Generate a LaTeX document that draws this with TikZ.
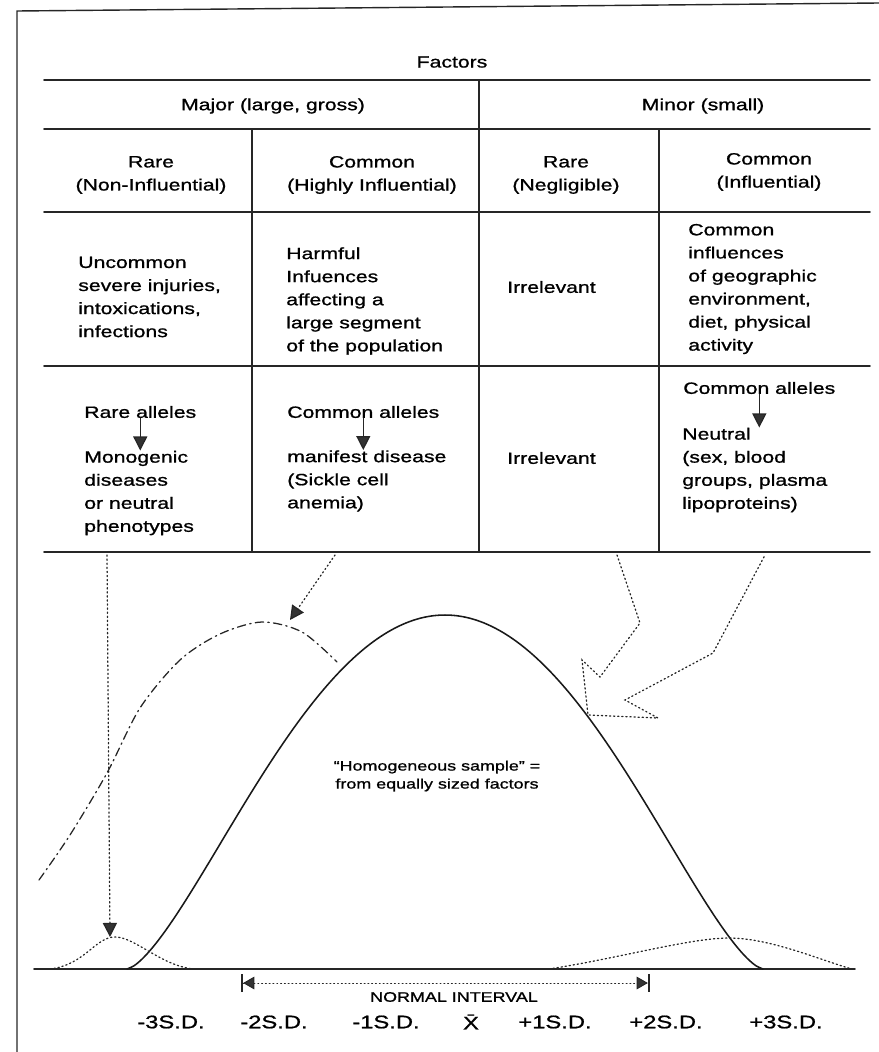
\documentclass[tikz,border=0pt]{standalone}
\usepackage{fontspec}
\setmainfont{Liberation Sans}[FakeStretch=1.3, FakeBold=1]
\usetikzlibrary{arrows.meta}

\tikzset{
    cell/.style={font=\fontsize{11.6}{16.4}\selectfont, inner sep=0pt, align=left, anchor=west},
    head/.style={cell, align=center, anchor=center},
    rule/.style={line width=1.1pt, black!85},
    down/.style={-{Triangle[width=10pt,length=10pt,fill=black!80]}, line width=0.9pt, black!85},
    dots/.style={dotted, line width=0.9pt, black!85},
    dashdot/.style={dash pattern=on 6pt off 3pt on 1pt off 3pt, line width=0.9pt, black!85},
}

\begin{document}
\begin{tikzpicture}[x=0.025cm, y=-0.025cm, line cap=round]
    \useasboundingbox (0,0) rectangle (879,1052);

    % Frame
    \draw[line width=1pt, black!85] (17,1052) -- (17,11) -- (879,3);

    % Table rules
    \foreach \y in {80,129,212,366,552}
        \draw[rule] (44,\y) -- (870,\y);
    \draw[rule] (479,80) -- (479,552);
    \foreach \x in {252,659}
        \draw[rule] (\x,129) -- (\x,552);

    % Headings
    \node[head] (factors) at (452,62) {Factors};
    \node[head] (major) at (273,106) {Major (large, gross)};
    \node[head] (minor) at (703,106) {Minor (small)};
    \node[head] (rare1) at (151,175) {Rare\\(Non-Influential)};
    \node[head] (common1) at (372,175) {Common\\(Highly Influential)};
    \node[head] (rare2) at (566,175) {Rare\\(Negligible)};
    \node[head] (common2) at (769,172) {Common\\(Influential)};

    % Environmental factors
    \node[cell] (injuries) at (78,297) {Uncommon\\severe injuries,\\intoxications,\\infections};
    \node[cell] (harmful) at (286,301) {Harmful\\Infuences\\affecting a\\large segment\\of the population};
    \node[cell] (irr1) at (507,287) {Irrelevant};
    \node[cell] (geo) at (688,289) {Common\\influences\\of geographic\\environment,\\diet, physical\\activity};

    % Genetic factors
    \node[cell] (rarealleles) at (84,412) {Rare alleles};
    \node[cell] (monogenic) at (84,493) {Monogenic\\diseases\\or neutral\\phenotypes};
    \node[cell] (comalleles) at (287,412) {Common alleles};
    \node[cell] (manifest) at (287,481) {manifest disease\\(Sickle cell\\anemia)};
    \node[cell] (irr2) at (507,458) {Irrelevant};
    \node[cell] (comalleles2) at (683,388) {Common alleles};
    \node[cell] (neutral) at (682,470) {Neutral\\(sex, blood\\groups, plasma\\lipoproteins)};

    \draw[down] (rarealleles.south) -- (rarealleles.south |- monogenic.north);
    \draw[down] (comalleles.south) -- (comalleles.south |- manifest.north);
    \draw[down] (comalleles2.south) -- (comalleles2.south |- neutral.north);

    % Baseline and distributions
    \draw[line width=1.2pt, black!85] (34,969) -- (855,969);
    \draw[line width=1.1pt, black!90] plot[domain=-318:318, samples=90, smooth]
        ({445+\x}, {969-354*(1-(\x/318)^2)*sqrt(abs(1-(\x/318)^2))});
    \draw[dashdot] plot[smooth] coordinates
        {(39,880) (70,835) (107,773) (140,708) (180,660) (220,634) (262,622) (302,632) (337,662)};
    \draw[dots] (50,969) .. controls (85,965) and (95,937) .. (115,937)
        .. controls (135,937) and (160,965) .. (193,969);
    \draw[dots] (549,969) .. controls (620,958) and (690,938) .. (729,938)
        .. controls (770,938) and (820,960) .. (852,969);

    % Arrows from table to curves
    \coordinate (rarefrom) at (107,555);
    \coordinate (rareto) at (110,937);
    \draw[dots, -{Triangle[width=10pt,length=10pt,fill=black!80]}] (rarefrom) -- (rareto);
    \coordinate (commonfrom) at (335,555);
    \coordinate (commonto) at (290,620);
    \draw[dots, -{Triangle[width=10pt,length=10pt,fill=black!80]}] (commonfrom) -- (commonto);
    \draw[dots] (617,555) -- (640,623) -- (600,677) -- (582,660) -- (588,715)
        -- (658,718) -- (625,700) -- (713,653) -- (765,555);

    \node[font=\fontsize{9.8}{12.8}\selectfont, align=center] (homog) at (437,776)
        {``Homogeneous sample'' =\\from equally sized factors};

    % Normal interval
    \coordinate (nleft) at (241,983);
    \coordinate (nright) at (650,983);
    \draw[dotted, line width=0.7pt, black!85,
        {Bar[width=13pt,line width=1.5pt,sep=0pt]Triangle[width=9pt,length=8pt,sep=0pt,fill=black!80]}-{Triangle[width=9pt,length=8pt,sep=0pt,fill=black!80]Bar[width=13pt,line width=1.5pt,sep=0pt]}]
        (nleft) -- (nright);
    \node[font=\fontsize{9.8}{12}\selectfont] (normal) at (454,997) {NORMAL INTERVAL};

    % Labels on x-axis
    \foreach \x/\label in {171/-3S.D., 274/-2S.D., 386/-1S.D., 471/\=X, 555/+1S.D., 666/+2S.D., 786/+3S.D.}
        \node[font=\fontsize{13}{15}\selectfont] at (\x,1022) {\label};
\end{tikzpicture}
\end{document}
